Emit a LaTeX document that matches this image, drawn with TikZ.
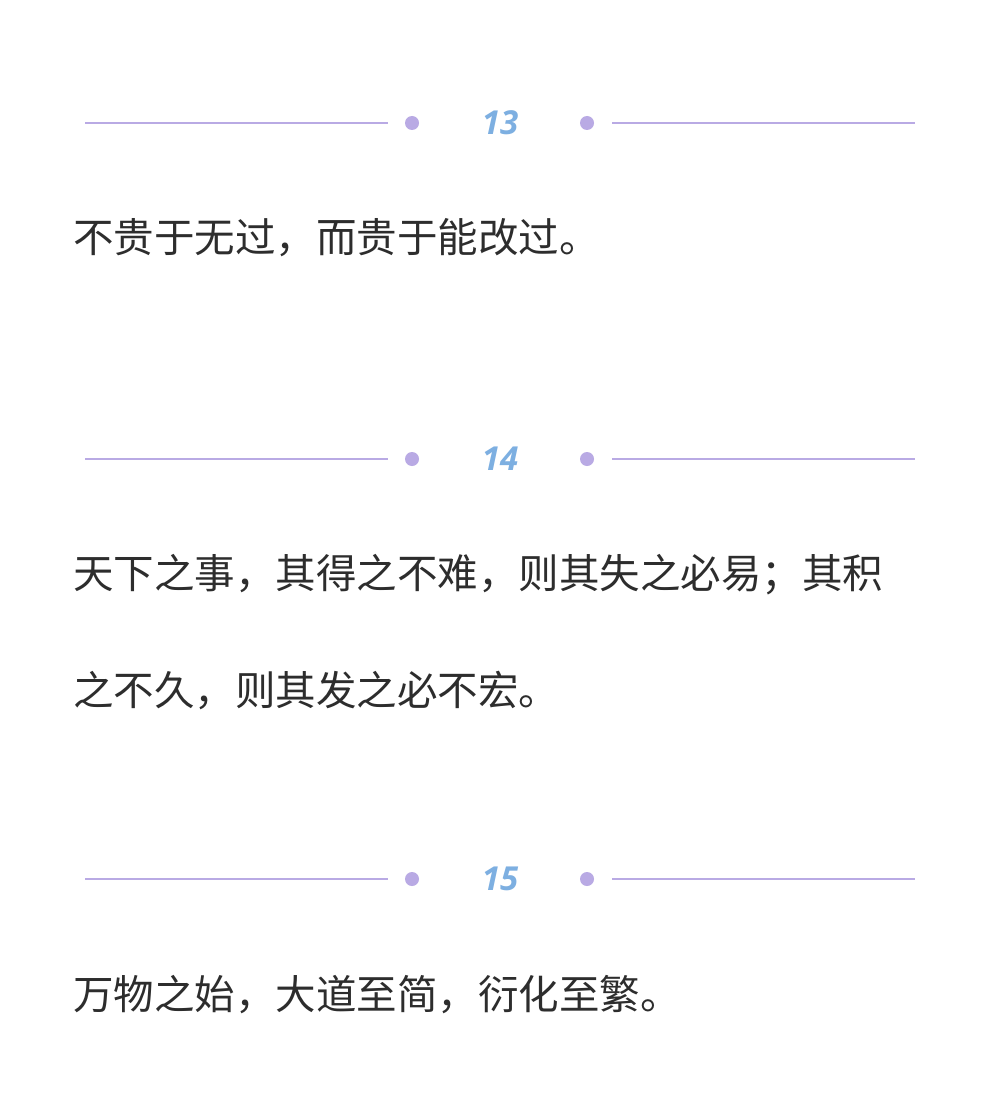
\documentclass[tikz,border=0pt]{standalone}
\usepackage{fontspec}
\newfontfamily\cjk{Noto Sans CJK SC}
\newfontfamily\numf{Open Sans}
\definecolor{lav}{RGB}{185,170,228}
\definecolor{numc}{RGB}{125,175,225}
\definecolor{txt}{RGB}{45,45,45}
\begin{document}
\begin{tikzpicture}[x=1pt,y=-1pt,
  rule/.style={draw=lav,line width=2.4pt},
  dotm/.style={circle,fill=lav,inner sep=0pt,minimum size=14pt},
  num/.style={text=numc,font=\numf\itshape\bfseries\fontsize{33}{33}\selectfont},
  quote/.style={anchor=west,inner sep=0pt,text=txt,font=\cjk\fontsize{40.5}{40.5}\selectfont}]
\useasboundingbox[fill=white] (0,0) rectangle (1000,1110);
\foreach \y/\n in {123/13,459/14,879/15}{
  \coordinate (l1\n) at (85,\y); \coordinate (l2\n) at (388,\y);
  \coordinate (r1\n) at (612,\y); \coordinate (r2\n) at (915,\y);
  \draw[rule] (l1\n) -- (l2\n);
  \draw[rule] (r1\n) -- (r2\n);
  \node[dotm] (dl\n) at (412,\y) {};
  \node[dotm] (dr\n) at (587,\y) {};
  \node[num] (n\n) at (500,\y) {\n};
}
\node[quote] (q1) at (73,238) {不贵于无过，而贵于能改过。};
\node[quote] (q2) at (73,575) {天下之事，其得之不难，则其失之必易；其积};
\node[quote] (q3) at (73,690) {之不久，则其发之必不宏。};
\node[quote] (q4) at (73,995) {万物之始，大道至简，衍化至繁。};
\end{tikzpicture}
\end{document}
